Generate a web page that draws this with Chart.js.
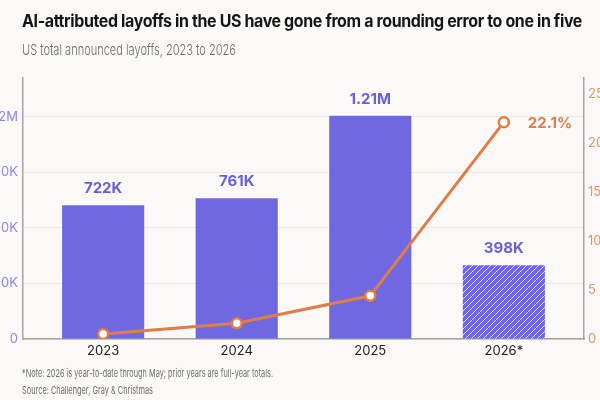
<!DOCTYPE html>
<html>
<head>
<meta charset="utf-8">
<script src="https://cdn.jsdelivr.net/npm/chart.js@4"></script>
<style>
  html, body { margin: 0; padding: 0; background: #faf9f7; overflow: hidden; }
  #wrap { position: relative; width: 600px; height: 400px; font-family: Inter, "Noto Sans", sans-serif; }
  #chart { position: absolute; left: 0; top: 0; }
  .txt { position: absolute; left: 22px; white-space: nowrap; transform-origin: left center; }
  .title { top: 11px; font-size: 17px; font-weight: 700; color: #151515; letter-spacing: -0.4px; }
  .sub { top: 40px; font-size: 15px; font-weight: 300; color: #6b6b6b; }
  .note { font-size: 11px; color: #6e6e6e; }
</style>
</head>
<body>
<div id="wrap">
  <canvas id="chart" width="600" height="400"></canvas>
  <div class="txt title" data-w="560">AI-attributed layoffs in the US have gone from a rounding error to one in five</div>
  <div class="txt sub" data-w="214">US total announced layoffs, 2023 to 2026</div>
  <div class="txt note" data-w="251" style="top:366px">*Note: 2026 is year-to-date through May; prior years are full-year totals.</div>
  <div class="txt note" data-w="131" style="top:383px">Source: Challenger, Gray &amp; Christmas</div>
</div>
<script>
const years = ['2023', '2024', '2025', '2026*'];
const layoffs = [722000, 761000, 1206000, 398000];
const aiShare = [0.5, 1.6, 4.4, 22.1];
const leftTicks = [0, 300000, 600000, 900000, 1200000];
const rightTicks = [0, 5, 10, 15, 20, 25];

const purple = '#6f68e0';
const orange = '#e07c45';

// squeeze the header/footer text to the widths in the original
document.querySelectorAll('.txt').forEach(el => {
    const w = el.getBoundingClientRect().width;
    el.style.transform = 'scaleX(' + (Number(el.dataset.w) / w) + ')';
});

function fmtK(v) {
    if (v >= 1000000) return (Math.round(v / 10000) / 100) + 'M';
    if (v === 0) return '0';
    return Math.round(v / 1000) + 'K';
}

// hatch for the partial year
function hatch() {
    const c = document.createElement('canvas');
    c.width = 6; c.height = 6;
    const g = c.getContext('2d');
    g.fillStyle = purple;
    g.fillRect(0, 0, 6, 6);
    g.strokeStyle = 'rgba(255,255,255,0.75)';
    g.lineWidth = 1;
    g.beginPath();
    g.moveTo(0, 6); g.lineTo(6, 0);
    g.moveTo(-3, 3); g.lineTo(3, -3);
    g.moveTo(3, 9); g.lineTo(9, 3);
    g.stroke();
    return g.createPattern(c, 'repeat');
}
const pat = hatch();

const labelPlugin = {
    id: 'valueLabels',
    afterDatasetsDraw(chart) {
        const ctx = chart.ctx;
        ctx.save();
        ctx.font = '700 15px Inter, sans-serif';
        ctx.fillStyle = '#6860d8';
        ctx.textAlign = 'center';
        ctx.textBaseline = 'bottom';
        chart.getDatasetMeta(0).data.forEach((bar, i) => {
            ctx.fillText(fmtK(layoffs[i]), bar.x, bar.y - 9);
        });
        const pts = chart.getDatasetMeta(1).data;
        const last = pts[pts.length - 1];
        ctx.fillStyle = orange;
        ctx.textAlign = 'left';
        ctx.textBaseline = 'middle';
        ctx.fillText(aiShare[aiShare.length - 1] + '%', last.x + 24, last.y + 1);
        ctx.restore();
    }
};

new Chart(document.getElementById('chart'), {
    type: 'bar',
    data: {
        datasets: [{
            label: 'Total layoffs',
            data: layoffs.map((v, i) => ({ x: i, y: v })),
            backgroundColor: layoffs.map((v, i) => i === layoffs.length - 1 ? pat : purple),
            categoryPercentage: 1,
            barPercentage: 0.615,
            yAxisID: 'y',
            order: 1
        }, {
            type: 'line',
            label: 'AI share',
            data: aiShare.map((v, i) => ({ x: i, y: v })),
            borderColor: orange,
            borderWidth: 3,
            pointRadius: 5,
            pointBorderWidth: 2.5,
            pointBackgroundColor: '#ffffff',
            pointBorderColor: orange,
            yAxisID: 'y1',
            order: 0
        }]
    },
    options: {
        responsive: false,
        animation: false,
        layout: { padding: { top: 78, bottom: 39, left: 0, right: 0 } },
        plugins: { legend: { display: false }, tooltip: { enabled: false } },
        scales: {
            x: {
                type: 'linear',
                offset: false,
                min: -0.6,
                max: 3.6,
                afterBuildTicks: s => { s.ticks = years.map((y, i) => ({ value: i })); },
                afterFit: s => { s.height = 22; },
                grid: { display: false, drawTicks: false },
                border: { color: '#a3a3a3', width: 1.5 },
                ticks: {
                    callback: v => years[v],
                    color: '#222',
                    font: { family: 'Inter', size: 13 },
                    padding: 4,
                    maxRotation: 0
                }
            },
            y: {
                position: 'left',
                min: 0,
                max: 1410000,
                afterBuildTicks: s => { s.ticks = leftTicks.map(v => ({ value: v })); },
                afterFit: s => { s.width = 23; },
                grid: { color: '#ece9e5', drawTicks: false },
                border: { color: '#a3a3a3', width: 1.5 },
                ticks: {
                    callback: v => fmtK(v),
                    color: '#8c85e3',
                    font: { family: 'Inter', size: 13 },
                    padding: 5
                }
            },
            y1: {
                position: 'right',
                min: 0,
                max: 26.6,
                afterBuildTicks: s => { s.ticks = rightTicks.map(v => ({ value: v })); },
                afterFit: s => { s.width = 16; },
                grid: { display: false, drawTicks: false },
                border: { color: '#a3a3a3', width: 1.5 },
                ticks: {
                    color: '#e39465',
                    font: { family: 'Inter', size: 13 },
                    padding: 4
                }
            }
        }
    },
    plugins: [labelPlugin]
});
</script>
</body>
</html>
